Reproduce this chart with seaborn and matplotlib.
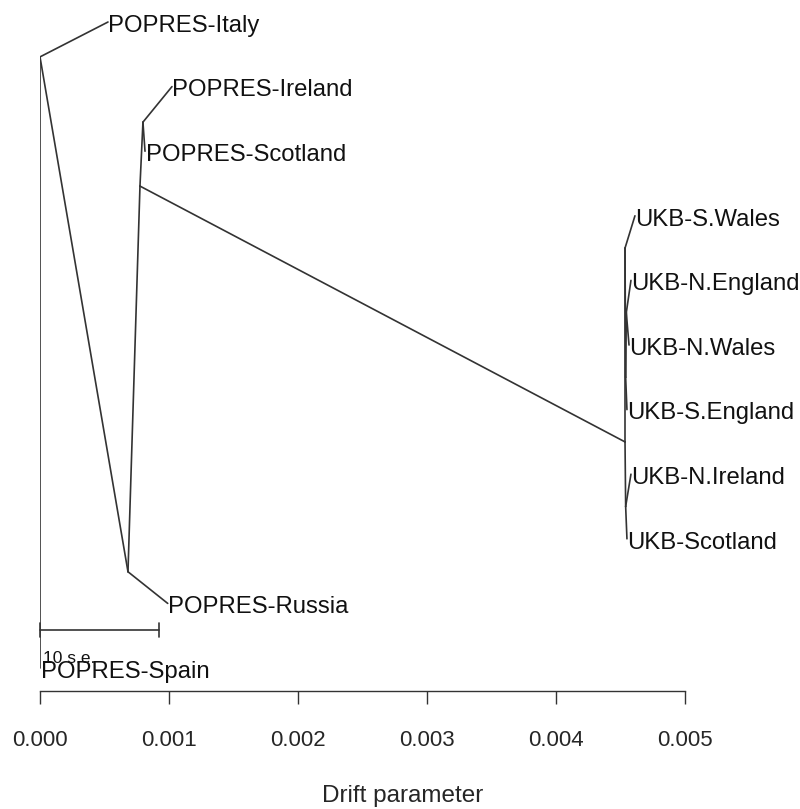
import numpy as np
import pandas as pd
import matplotlib
matplotlib.use("Agg")
import matplotlib.pyplot as plt
import seaborn as sns

# ---- data ----
leaf_names = ["POPRES-Italy", "POPRES-Ireland", "POPRES-Scotland", "UKB-S.Wales",
              "UKB-N.England", "UKB-N.Wales", "UKB-S.England", "UKB-N.Ireland",
              "UKB-Scotland", "POPRES-Russia", "POPRES-Spain"]
leaf_drift = [0.000527, 0.001023, 0.000814, 0.004612, 0.004581, 0.004566,
              0.004550, 0.004581, 0.004550, 0.000990, 0.0]
leaf_pos = [0, 1, 2, 3, 4, 5, 6, 7, 8, 9, 10]

node_names = ["root", "A", "B", "C", "D", "E", "F", "H", "G"]
node_drift = [0.0, 0.000682, 0.000775, 0.000798, 0.004535, 0.004535, 0.004540, 0.004545, 0.004540]
node_pos = [0.54, 8.51, 2.54, 1.55, 6.5, 3.5, 5.5, 4.5, 7.5]

edge_parent = ["root", "root", "root", "A", "A", "B", "B", "C", "C",
               "D", "D", "E", "E", "F", "F", "H", "H", "G", "G"]
edge_child = ["POPRES-Italy", "POPRES-Spain", "A", "POPRES-Russia", "B", "C", "D",
              "POPRES-Ireland", "POPRES-Scotland", "E", "G", "UKB-S.Wales", "F",
              "H", "UKB-S.England", "UKB-N.England", "UKB-N.Wales",
              "UKB-N.Ireland", "UKB-Scotland"]

scale_len = 0.000922
scale_label = "10 s.e."
x_ticks = [0.000, 0.001, 0.002, 0.003, 0.004, 0.005]
x_label = "Drift parameter"

# ---- build table ----
coords = {}
for n, x, y in zip(leaf_names, leaf_drift, leaf_pos):
    coords[n] = (x, y)
for n, x, y in zip(node_names, node_drift, node_pos):
    coords[n] = (x, y)

rows = []
for i, (p, c) in enumerate(zip(edge_parent, edge_child)):
    for k, n in enumerate((p, c)):
        rows.append({"edge": i, "order": k, "x": coords[n][0], "y": coords[n][1]})
edges = pd.DataFrame(rows)

# ---- plot ----
sns.set_style("white")
plt.rcParams["font.family"] = ["Liberation Sans", "DejaVu Sans"]

fig = plt.figure(figsize=(8, 8.09), dpi=100)
W, H = 800, 809
ax = fig.add_axes([40 / W, (H - 691) / H, 645 / W, 681 / H])

line_col = "#333333"
sns.lineplot(data=edges, x="x", y="y", units="edge", estimator=None, sort=False,
             color=line_col, linewidth=1.2, ax=ax, legend=False)

for n, x, y in zip(leaf_names, leaf_drift, leaf_pos):
    ax.text(x + 0.000004, y + 0.06, n, ha="left", va="center", fontsize=17.2,
            color="#111111", clip_on=False)

# scale bar
sb_y = 9.41
ax.plot([0, scale_len], [sb_y, sb_y], color=line_col, lw=1.2, clip_on=False)
ax.plot([0, 0], [sb_y - 0.11, sb_y + 0.11], color=line_col, lw=1.2, clip_on=False)
ax.plot([scale_len, scale_len], [sb_y - 0.11, sb_y + 0.11], color=line_col, lw=1.2, clip_on=False)
ax.text(0.00002, 9.85, scale_label, ha="left", va="center", fontsize=12.5, color="#111111")

ax.set_xlim(0, 0.005)
ax.set_ylim(10.356, -0.186)
ax.set_yticks([])
ax.set_xticks(x_ticks)
ax.set_xticklabels([f"{t:.3f}" for t in x_ticks], fontsize=16)
ax.tick_params(axis="x", direction="out", length=9.4, width=1.0, color=line_col,
               pad=19, bottom=True)
ax.set_xlabel(x_label, fontsize=17.5, va="center")
ax.xaxis.set_label_coords((403 - 40) / 645, (691 - 796) / 681)
ax.set_ylabel("")
for s in ["top", "right", "left"]:
    ax.spines[s].set_visible(False)
ax.spines["bottom"].set_color(line_col)
ax.spines["bottom"].set_linewidth(1.0)
ax.patch.set_alpha(0)

fig.savefig("out.png", dpi=100)
